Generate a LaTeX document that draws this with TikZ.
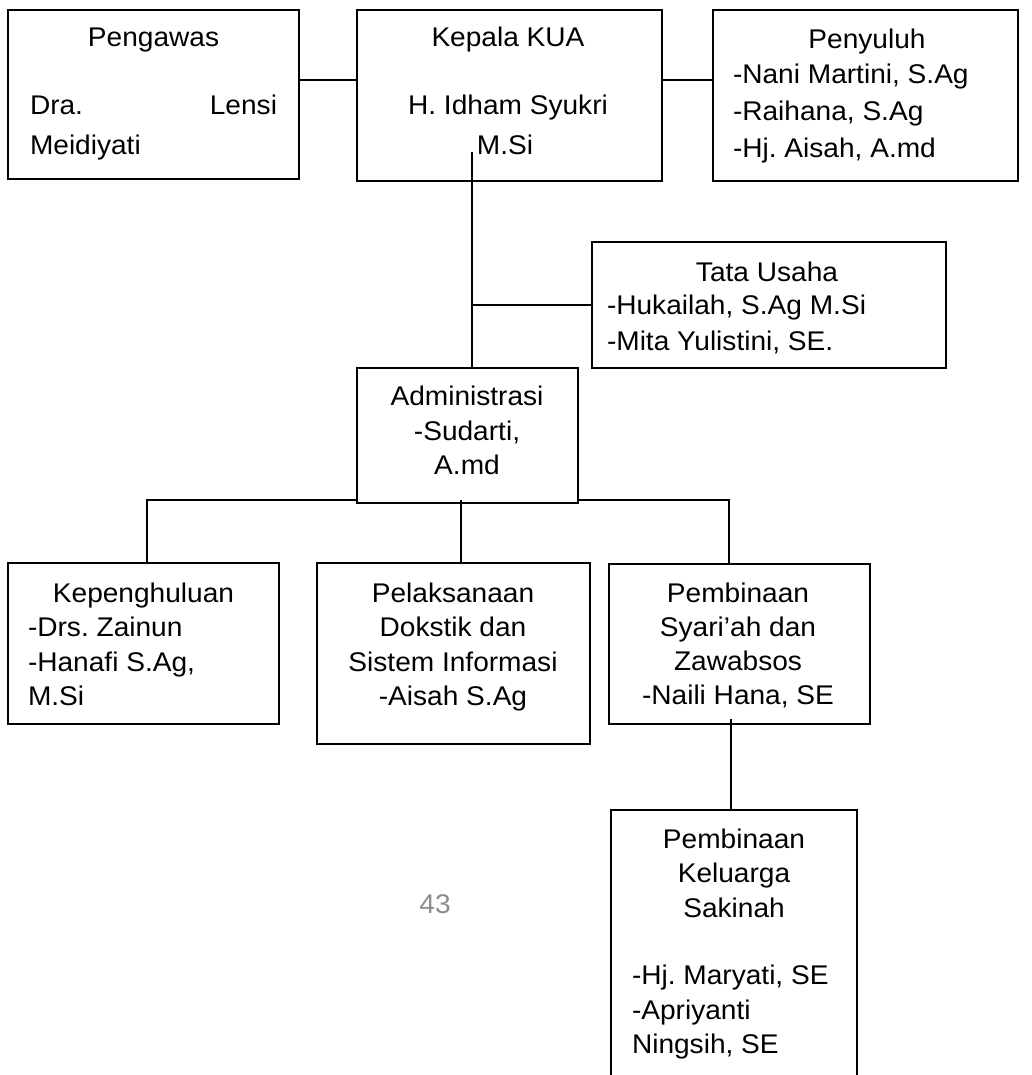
\documentclass[tikz,border=0pt]{standalone}
\usepackage{fontspec}
\setmainfont{Liberation Sans}[FakeStretch=1.04]
\begin{document}
\frenchspacing
\begin{tikzpicture}[x=1pt,y=-1pt,
  box/.style={draw=black, line width=1.8pt, inner sep=0pt, outer sep=0pt},
  conn/.style={draw=black, line width=1.8pt},
  txt/.style={inner sep=0pt, outer sep=0pt, font=\fontsize{27}{32}\selectfont},
  pg/.style={txt, text=black!45}]
\clip (0,0) rectangle (1031,1075);
\fill[white] (0,0) rectangle (1031,1075);
% boxes
\node[box, minimum width=291pt, minimum height=169pt] (peng) at (153.5,94.5) {};
\node[box, minimum width=305pt, minimum height=171pt] (kepala) at (509.5,95.5) {};
\node[box, minimum width=305pt, minimum height=171pt] (peny) at (865.5,95.5) {};
\node[box, minimum width=354pt, minimum height=126pt] (tata) at (769,305) {};
\node[box, minimum width=221pt, minimum height=135pt] (admin) at (467.5,435.5) {};
\node[box, minimum width=271pt, minimum height=161pt] (kep) at (143.5,643.5) {};
\node[box, minimum width=273pt, minimum height=181pt] (pel) at (453.5,653.5) {};
\node[box, minimum width=261pt, minimum height=160pt] (syar) at (739.5,644) {};
\node[box, minimum width=246pt, minimum height=290pt] (kel) at (734,955) {};
% connector helper coordinates
\coordinate (y80) at (0,80);
\coordinate (kv) at (472,152);
\coordinate (kb) at (147,500);
\coordinate (mb) at (461,500);
\coordinate (sb) at (729,500);
\coordinate (sk) at (731,719);
% connectors
\draw[conn] (peng.east |- y80) -- (kepala.west |- y80);
\draw[conn] (kepala.east |- y80) -- (peny.west |- y80);
\draw[conn] (kv) -- (kv |- admin.north);
\draw[conn] (kv |- tata.west) -- (tata.west);
\draw[conn] (admin.west |- kb) -- (kb) -- (kb |- kep.north);
\draw[conn] (mb) -- (mb |- pel.north);
\draw[conn] (admin.east |- sb) -- (sb) -- (sb |- syar.north);
\draw[conn] (sk) -- (sk |- kel.north);
% Pengawas
\node[txt, anchor=base] (t1) at (153.5,47) {Pengawas};
\node[txt, anchor=base west] (t2) at (30,115) {Dra.};
\node[txt, anchor=base east] (t3) at (277,115) {Lensi};
\node[txt, anchor=base west] (t4) at (30,155) {Meidiyati};
% Kepala
\node[txt, anchor=base] (t5) at (508,47) {Kepala KUA};
\node[txt, anchor=base] (t6) at (508,115) {H. Idham Syukri};
\node[txt, anchor=base] (t7) at (505,155) {M.Si};
% Penyuluh
\node[txt, anchor=base] (t8) at (867,49) {Penyuluh};
\node[txt, anchor=base west] (t9) at (733,84) {-Nani Martini, S.Ag};
\node[txt, anchor=base west] (t10) at (733,121) {-Raihana, S.Ag};
\node[txt, anchor=base west] (t11) at (733,158) {-Hj. Aisah, A.md};
% Tata Usaha
\node[txt, anchor=base] (t12) at (767,281) {Tata Usaha};
\node[txt, anchor=base west] (t13) at (607,314) {-Hukailah, S.Ag M.Si};
\node[txt, anchor=base west] (t14) at (607,350) {-Mita Yulistini, SE.};
% Administrasi
\node[txt, anchor=base] (t15) at (467,405) {Administrasi};
\node[txt, anchor=base] (t16) at (467,440) {-Sudarti,};
\node[txt, anchor=base] (t17) at (467,474) {A.md};
% Kepenghuluan
\node[txt, anchor=base] (t18) at (143.5,602) {Kepenghuluan};
\node[txt, anchor=base west] (t19) at (28,636) {-Drs. Zainun};
\node[txt, anchor=base west] (t20) at (28,671) {-Hanafi S.Ag,};
\node[txt, anchor=base west] (t21) at (28,705) {M.Si};
% Pelaksanaan
\node[txt, anchor=base] (t22) at (453,602) {Pelaksanaan};
\node[txt, anchor=base] (t23) at (453,636) {Dokstik dan};
\node[txt, anchor=base] (t24) at (453,671) {Sistem Informasi};
\node[txt, anchor=base] (t25) at (453,705) {-Aisah S.Ag};
% Pembinaan Syariah
\node[txt, anchor=base] (t26) at (738,602) {Pembinaan};
\node[txt, anchor=base] (t27) at (738,636) {Syari’ah dan};
\node[txt, anchor=base] (t28) at (738,670) {Zawabsos};
\node[txt, anchor=base] (t29) at (738,704) {-Naili Hana, SE};
% Pembinaan Keluarga Sakinah
\node[txt, anchor=base] (t30) at (734,848) {Pembinaan};
\node[txt, anchor=base] (t31) at (734,882) {Keluarga};
\node[txt, anchor=base] (t32) at (734,917) {Sakinah};
\node[txt, anchor=base west] (t33) at (632,984) {-Hj. Maryati, SE};
\node[txt, anchor=base west] (t34) at (632,1019) {-Apriyanti};
\node[txt, anchor=base west] (t35) at (632,1053) {Ningsih, SE};
% page number
\node[pg, anchor=base] (pnum) at (435,913) {43};
\end{tikzpicture}
\end{document}
